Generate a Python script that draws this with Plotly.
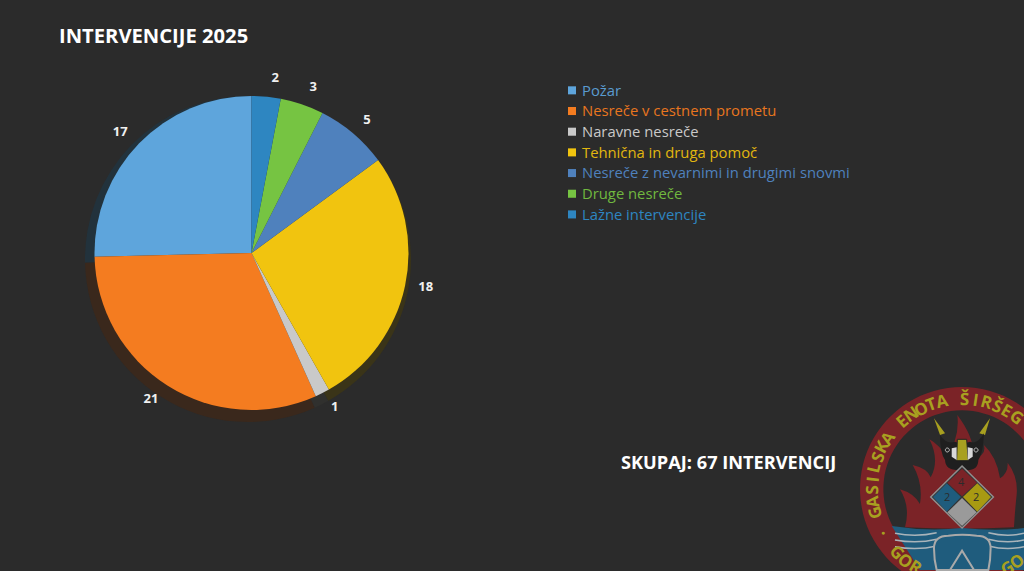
import math
import plotly.graph_objects as go

W, H = 1024, 571
BG = "#2b2b2b"

categories = ["Požar", "Nesreče v cestnem prometu", "Naravne nesreče", "Tehnična in druga pomoč",
              "Nesreče z nevarnimi in drugimi snovmi", "Druge nesreče", "Lažne intervencije"]
values = [17, 21, 1, 18, 5, 3, 2]
colors = ["#5ea5dc", "#f47c20", "#c9c9c9", "#f1c40f", "#4f81bd", "#76c442", "#2e86c1"]
text_colors = ["#5a9bd0", "#e8761f", "#c9c9c9", "#e2b70f", "#4f81bd", "#70b83f", "#2e86c1"]
shadow_colors = ["#22323c", "#3a281c", "#30302e", "#3a3418", "#22303c", "#2a3420", "#22303c"]

title_text = "INTERVENCIJE 2025"
total_text = "SKUPAJ: 67 INTERVENCIJ"
ring_top = "GASILSKA ENOTA ŠIRŠEGA"
ring_bottom = "GORNJA RADGONA"


def dom(cx, cy, r):
    return dict(x=[(cx - r) / W, (cx + r) / W], y=[1 - (cy + r) / H, 1 - (cy - r) / H])


legend_labels = [f'<span style="color:{c};font-size:14.8px">{n}</span>' for n, c in zip(categories, text_colors)]
rot = -360 * values[0] / sum(values)
last = len(values) - 1

fig = go.Figure()
fig.add_trace(go.Pie(labels=categories, values=values, sort=False, direction="counterclockwise",
                     rotation=rot, textinfo="none", showlegend=False, hoverinfo="skip",
                     marker=dict(colors=shadow_colors, line=dict(width=0)),
                     domain=dom(248, 259, 163)))
# transparent pies that only carry the value labels, set off from the visible edge.
# The smallest slice's label sits in its own trace so that it is not pushed away from its neighbour.
for shown in (lambda i: i != last, lambda i: i == last):
    fig.add_trace(go.Pie(labels=categories, values=values, sort=False, direction="counterclockwise",
                         rotation=rot, textinfo="value", showlegend=False, hoverinfo="skip",
                         textposition=["outside" if shown(i) else "none" for i in range(len(values))],
                         outsidetextfont=dict(family="Open Sans", size=13, color="#f0f0f0", weight="bold"),
                         automargin=False,
                         marker=dict(colors=["rgba(0,0,0,0)"] * len(values), line=dict(width=0)),
                         domain=dom(251.5, 251, 166)))
fig.add_trace(go.Pie(labels=legend_labels, values=values, sort=False, direction="counterclockwise",
                     rotation=rot, textinfo="none",
                     marker=dict(colors=colors, line=dict(width=0)),
                     domain=dom(251.5, 253, 157)))


def zx(v):
    return (840 + v / 3) / W


def zy(v):
    return 1 - (370 + v / 3) / H


def P(p):
    return f"{zx(p[0]):.4f},{zy(p[1]):.4f}"


def path(pts, close=True):
    s = "M" + " L".join(P(p) for p in pts)
    return s + (" Z" if close else "")


def curve(start, segs, close=True):
    s = "M" + P(start)
    for c, e in segs:
        s += f" Q{P(c)} {P(e)}"
    return s + (" Z" if close else "")


def circle_path(cx, cy, r, n=90):
    pts = []
    for i in range(n + 1):
        t = math.radians(360 * i / n)
        pts.append((cx + r * math.sin(t), cy - r * math.cos(t)))
    return pts


RED = "#7b2327"
OLIVE = "#a8a020"
BLUE = "#1f5c7d"
GREY = "#8f8f8f"
STRIPE = "#a9b4ba"
CX, CY = 366, 357  # logo centre in zoom units
shapes = []


def add_raw(d, fill=None, line=None, lw=0):
    shapes.append(dict(type="path", xref="paper", yref="paper", path=d, fillcolor=fill,
                       line=dict(color=line or fill or BG, width=lw)))


def add(pts, fill, line=None, lw=0):
    add_raw(path(pts), fill, line, lw)


# ring
add_raw(path(circle_path(CX, CY, 306)) + " " + path(circle_path(CX, CY, 236)[::-1]), RED)
# flames
add_raw(curve((195, 472), [
    ((212, 410), (180, 358)), ((222, 370), (240, 402)), ((250, 340), (218, 285)), ((262, 295), (272, 322)),
    ((300, 270), (268, 208)), ((300, 225), (318, 262)), ((360, 205), (352, 135)), ((405, 205), (400, 262)),
    ((440, 260), (432, 225)), ((470, 260), (480, 325)), ((505, 310), (503, 278)), ((535, 320), (530, 375)),
    ((525, 420), (522, 472)), ((360, 480), (195, 472))]), RED)
# water
add_raw(curve((155, 468), [((260, 485), (366, 474)), ((470, 485), (552, 474))], close=False)
        + " L" + P((552, 600)) + " L" + P((240, 600)) + " Z", BLUE)
for y0 in (490, 510, 530):
    add_raw(curve((165, y0), [((230, y0 + 12), (290, y0 - 2))], close=False), None, STRIPE, 1.5)
    add_raw(curve((445, y0 - 2), [((500, y0 + 12), (552, y0))], close=False), None, STRIPE, 1.5)
# goggles
add_raw(curve((282, 535), [((282, 497), (325, 497)), ((366, 492), (410, 497)), ((452, 497), (452, 535)),
                           ((452, 570), (445, 600)), ((366, 600), (290, 600)), ((282, 570), (282, 535))]),
        BLUE, "#a9a9a9", 2)
add([(330, 600), (366, 542), (402, 600)], BLUE, "#a9a9a9", 2)
# nozzle
add([(282, 145), (315, 190), (300, 195)], OLIVE)
add([(450, 145), (418, 190), (435, 195)], OLIVE)
add_raw(curve((300, 195), [((320, 225), (345, 215)), ((366, 225), (390, 215)), ((412, 225), (432, 190)),
                           ((430, 250), (415, 270)), ((415, 305), (370, 300)), ((315, 305), (315, 270)),
                           ((300, 250), (300, 195))]), "#1f1f1f")
add([(352, 208), (380, 208), (385, 272), (350, 272)], OLIVE, "#222222", 1)
add([(335, 235), (350, 232), (350, 270), (335, 260)], "#d8d8d8")
add([(383, 232), (398, 235), (398, 260), (383, 270)], "#d8d8d8")
for c in (322, 408):
    add(circle_path(c, 240, 6, 20), "#1f1f1f", "#c8c8c8", 1)
# hazard diamond
add([(366, 288), (460, 381), (366, 474), (272, 381)], "#333333", GREY, 1.5)
add([(366, 296), (411, 338), (366, 379), (322, 338)], RED)
add([(320, 340), (363, 381), (320, 425), (279, 381)], BLUE)
add([(412, 340), (369, 381), (412, 425), (453, 381)], "#a89a12")
add([(366, 384), (410, 427), (366, 468), (322, 427)], "#9a9a9a")

annotations = [
    dict(text=title_text, x=57 / W, y=1 - 35 / H, xref="paper", yref="paper", xanchor="left", yanchor="middle",
         showarrow=False, font=dict(family="Open Sans", size=20.2, color="white", weight="bold")),
    dict(text=total_text, x=619 / W, y=1 - 462 / H, xref="paper", yref="paper", xanchor="left", yanchor="middle",
         showarrow=False, font=dict(family="Open Sans", size=18.2, color="white", weight="bold")),
]
for lab, zxx, zyy in (("4", 364, 335), ("2", 322, 380), ("2", 409, 380)):
    annotations.append(dict(text=lab, x=zx(zxx), y=zy(zyy), xref="paper", yref="paper", showarrow=False,
                            xanchor="center", yanchor="middle",
                            font=dict(family="Open Sans", size=11, color="#2b2b2b")))


def letter(ch, ang, rot_, r=272, size=17):
    t = math.radians(ang)
    x, y = zx(CX + r * math.sin(t)), zy(CY - r * math.cos(t))
    if not (0 <= x <= 1 and 0 <= y <= 1):
        return
    annotations.append(dict(text=ch, x=x, y=y, xref="paper", yref="paper", showarrow=False, textangle=rot_,
                            xanchor="center", yanchor="middle",
                            font=dict(family="Open Sans", size=size, color=OLIVE, weight="bold")))


for i, ch in enumerate(ring_top):
    a = -105 + i * 7.1
    if ch != " ":
        letter(ch, a, a)
for i, ch in enumerate(ring_bottom):
    a = 226 - i * 7.6
    if ch != " ":
        letter(ch, a, a - 180)
letter("●", 241, 0, size=7)

fig.update_layout(
    width=W, height=H, margin=dict(l=0, r=0, t=0, b=0), paper_bgcolor=BG, plot_bgcolor=BG,
    shapes=shapes, annotations=annotations,
    legend=dict(x=542 / W, y=1 - 75 / H, xanchor="left", yanchor="top", bgcolor="rgba(0,0,0,0)",
                traceorder="normal", font=dict(family="Open Sans", size=13.6, color="#cccccc"),
                itemclick=False, itemdoubleclick=False),
)
post = """
document.documentElement.style.margin='0';document.body.style.margin='0';
document.body.style.background='%s';document.body.style.overflow='hidden';
document.querySelectorAll('.legendpoints').forEach(function(g){g.setAttribute('transform','translate(16.6,0) scale(0.67)');});
""" % BG
fig.write_html("out.html", config={"displayModeBar": False}, post_script=post)
